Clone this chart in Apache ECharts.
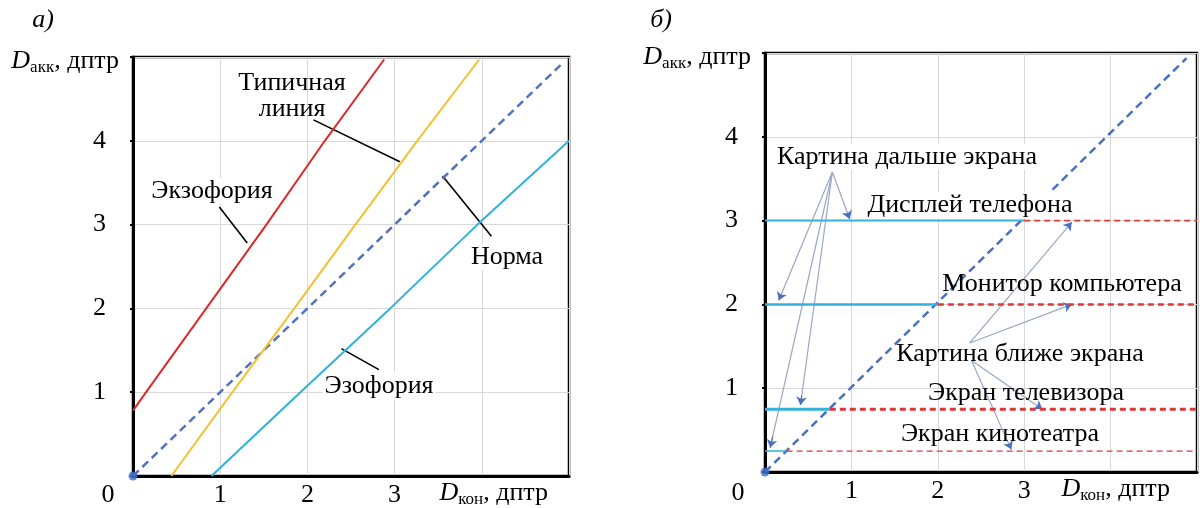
<!DOCTYPE html>
<html>
<head>
<meta charset="utf-8">
<script src="https://cdn.jsdelivr.net/npm/echarts@6/dist/echarts.min.js"></script>
<style>
html, body { margin: 0; background: #fff; }
#main { width: 1200px; height: 508px; }
</style>
</head>
<body>
<div id="main"></div>
<script>
// tick labels shown on the axes
var xTicks = ['1', '2', '3'];
var yTicks = ['1', '2', '3', '4'];

// а) lines, [Dкон, Dакк]
var exoLine = [[0, 0.78], [0.15, 1], [0.84, 2], [1.53, 3], [2.2, 4], [2.88, 4.97]];
var typicalLine = [[0.44, 0], [1.14, 1], [1.85, 2], [2.55, 3], [3.26, 4], [3.97, 4.97]];
var esoLine = [[0.9, 0], [1.92, 1], [2.95, 2], [3.95, 3], [5, 4]];
var normLeft = [[0, 0], [4.93, 4.93]];
// leader lines from labels to curves
var leadersLeft = [
    [[2.07, 4.25], [3.06, 3.75]],   // Типичная линия
    [[0.99, 3.21], [1.31, 2.78]],   // Экзофория
    [[3.55, 3.58], [4.11, 2.86]],   // Норма
    [[2.39, 1.52], [2.82, 1.27]]    // Эзофория
];

// б) screens
var normRight = [[0, 0], [4.88, 4.94]];
var screenLevels = [3, 2, 0.75, 0.25];     // Dакк of each screen
var screenCross = [3, 2, 0.75, 0.25];      // where solid part meets the norm
var screenEnd = 5;
// arrows: [from, to]
var farArrows = [
    [[0.78, 3.58], [0.98, 3.02]],
    [[0.78, 3.58], [0.16, 2.05]],
    [[0.78, 3.58], [0.41, 0.80]],
    [[0.78, 3.58], [0.06, 0.29]]
];
var nearArrows = [
    [[2.37, 1.54], [3.55, 2.98]],
    [[2.37, 1.54], [3.55, 2.00]],
    [[2.39, 1.33], [3.21, 0.75]],
    [[2.39, 1.33], [2.85, 0.27]]
];

var FONT = '"Liberation Serif", "DejaVu Serif", serif';
var FS = 26;
var solidW = [2, 2.5, 3, 1.5];
var dashW = [1.8, 2.5, 3, 1.3];

function axisName(sub) {
    return '{d|D}{s|' + sub + '}{t|, дптр}';
}
var nameRich = {
    d: { fontFamily: FONT, fontStyle: 'italic', fontSize: FS, color: '#000', lineHeight: 30 },
    s: { fontFamily: FONT, fontSize: 17, color: '#000', lineHeight: 17, verticalAlign: 'bottom' },
    t: { fontFamily: FONT, fontSize: FS, color: '#000', lineHeight: 30 }
};

function xAx(idx, gap) {
    return {
        type: 'value', gridIndex: idx, min: 0, max: 5, interval: 1,
        axisLine: { lineStyle: { color: '#000', width: 3 } },
        axisTick: { show: false },
        splitLine: { lineStyle: { color: '#d9d9d9', width: 1 } },
        axisLabel: {
            margin: 6, fontFamily: FONT, fontSize: FS, color: '#000',
            formatter: function (v) { return xTicks.indexOf(String(v)) >= 0 ? String(v) : ''; }
        },
        name: axisName('кон'), nameLocation: 'end', nameGap: gap,
        nameTextStyle: { align: 'right', verticalAlign: 'top', padding: [2, 0, 0, 0], rich: nameRich }
    };
}
function yAx(idx) {
    return {
        type: 'value', gridIndex: idx, min: 0, max: 5, interval: 1,
        axisLine: { lineStyle: { color: '#000', width: 3 } },
        axisTick: { show: true, length: 3, lineStyle: { color: '#000', width: 2 } },
        splitLine: { lineStyle: { color: '#d9d9d9', width: 1 } },
        axisLabel: {
            margin: 27, fontFamily: FONT, fontSize: FS, color: '#000',
            formatter: function (v) { return yTicks.indexOf(String(v)) >= 0 ? String(v) : ''; }
        },
        name: axisName('акк'), nameLocation: 'end', nameGap: -4,
        nameTextStyle: { align: 'right', verticalAlign: 'middle', padding: [0, 14, 0, 0], rich: nameRich }
    };
}

function lineSeries(data, color, width, dash, gi) {
    return {
        type: 'line', xAxisIndex: gi, yAxisIndex: gi, data: data,
        showSymbol: false, silent: true,
        lineStyle: { color: color, width: width, type: dash || 'solid' }
    };
}

// short piece at the tip of each arrow, drawn in blue with the arrowhead
function tipPiece(c) {
    var a = c[0], b = c[1];
    return { coords: [[b[0] - (b[0] - a[0]) * 0.04, b[1] - (b[1] - a[1]) * 0.04], b] };
}

var allArrows = farArrows.concat(nearArrows);
var series = [
    lineSeries(normLeft, '#5272c0', 2.5, [8, 5], 0),
    lineSeries(exoLine, '#dc2a2e', 2, null, 0),
    lineSeries(typicalLine, '#f2c230', 2, null, 0),
    lineSeries(esoLine, '#2fb2da', 2, null, 0),
    {
        type: 'lines', coordinateSystem: 'cartesian2d', xAxisIndex: 0, yAxisIndex: 0,
        data: leadersLeft.map(function (c) { return { coords: c }; }),
        lineStyle: { color: '#000', width: 1.6, opacity: 1 }, symbol: 'none', silent: true
    },
    lineSeries(normRight, '#4a70c2', 2.5, [8, 5], 1)
];
screenLevels.forEach(function (lv, i) {
    series.push(lineSeries([[0, lv], [screenCross[i], lv]], '#35b0dc', solidW[i], null, 1));
    series.push(lineSeries([[screenCross[i], lv], [screenEnd, lv]], '#dd3838', dashW[i], [6, 4], 1));
});
series.push({
    type: 'lines', coordinateSystem: 'cartesian2d', xAxisIndex: 1, yAxisIndex: 1,
    data: allArrows.map(function (c) { return { coords: c }; }),
    lineStyle: { color: '#9aa6c6', width: 1.2, opacity: 1 }, symbol: 'none', silent: true
});
series.push({
    type: 'lines', coordinateSystem: 'cartesian2d', xAxisIndex: 1, yAxisIndex: 1,
    data: allArrows.map(tipPiece),
    lineStyle: { color: '#4a70c2', width: 1.2, opacity: 1 }, symbol: ['none', 'arrow'], symbolSize: 8, silent: true
});
// origin dots
series.push({
    type: 'scatter', xAxisIndex: 0, yAxisIndex: 0, data: [[0, 0]], symbolSize: 9,
    itemStyle: { color: '#3f6fd0' }, silent: true, z: 5
});
series.push({
    type: 'scatter', xAxisIndex: 1, yAxisIndex: 1, data: [[0, 0]], symbolSize: 9,
    itemStyle: { color: '#3f6fd0' }, silent: true, z: 5
});

function txt(text, x, y, opts) {
    opts = opts || {};
    return {
        type: 'text', z: 100, silent: true,
        style: {
            text: text, x: x, y: y, fill: '#000',
            font: (opts.italic ? 'italic ' : '') + (opts.size || FS) + 'px ' + FONT,
            align: opts.align || 'center', verticalAlign: 'middle',
            lineHeight: 26,
            backgroundColor: opts.bg ? '#fff' : null, padding: opts.bg ? [0, 2] : 0
        }
    };
}

var option = {
    animation: false,
    backgroundColor: '#fff',
    grid: [
        { left: 133, top: 57, width: 436, height: 419, show: true, borderColor: '#000', borderWidth: 2.5 },
        { left: 765, top: 53, width: 440, height: 419, show: true, borderColor: '#000', borderWidth: 2.5 }
    ],
    xAxis: [xAx(0, -21), xAx(1, -27)],
    yAxis: [yAx(0), yAx(1)],
    series: series,
    graphic: [
        txt('а)', 43, 20, { italic: true }),
        txt('б)', 661, 20, { italic: true }),
        txt('0', 108, 495),
        txt('0', 738, 493),
        txt('Типичная\nлиния', 292, 96),
        txt('Экзофория', 212, 191, { bg: true }),
        txt('Норма', 507, 257, { bg: true }),
        txt('Эзофория', 379, 386, { bg: true }),
        txt('Картина дальше экрана', 907, 157, { bg: true }),
        txt('Дисплей телефона', 970, 205, { bg: true }),
        txt('Монитор компьютера', 1062, 284),
        txt('Картина ближе экрана', 1020, 354),
        txt('Экран телевизора', 1026, 393),
        txt('Экран кинотеатра', 1000, 434)
    ]
};

var myChart = echarts.init(document.getElementById('main'));
myChart.setOption(option);
window.addEventListener('resize', function () { myChart.resize(); });
</script>
</body>
</html>
